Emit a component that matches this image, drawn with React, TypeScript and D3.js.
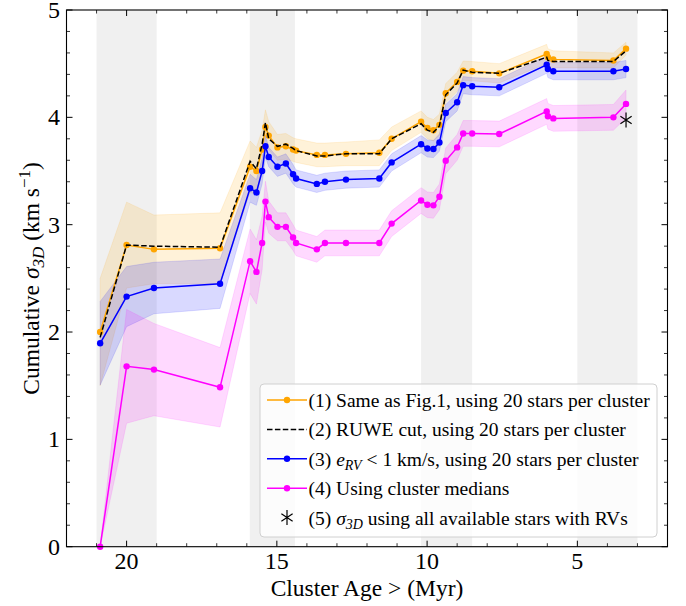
import React from 'react';
import * as d3 from 'd3';

// cluster ages (Myr) shared by every curve
const ages = [20.88, 20.0, 19.09, 16.89, 15.89, 15.68, 15.49, 15.38, 15.27, 14.98, 14.7, 14.46, 14.36, 13.67, 13.4, 12.7,
  11.59, 11.18, 10.2, 9.99, 9.79, 9.59, 9.38, 9.0, 8.8, 8.5, 7.6, 6.02, 5.98, 5.8, 3.8, 3.38];

// (1) same as Fig.1
const sameAsFig1 = [2.0, 2.81, 2.77, 2.78, 3.54, 3.5, 3.7, 3.91, 3.83, 3.72, 3.73, 3.7, 3.69, 3.65, 3.65, 3.66,
  3.67, 3.8, 3.96, 3.9, 3.88, 3.93, 4.225, 4.33, 4.435, 4.43, 4.41, 4.59, 4.56, 4.54, 4.53, 4.64];
const errFig1 = [0.5, 0.4, 0.32, 0.33, 0.24, 0.22, 0.18, 0.16, 0.13, 0.12, 0.12, 0.11, 0.11, 0.11, 0.11, 0.11,
  0.12, 0.11, 0.1, 0.1, 0.1, 0.1, 0.09, 0.09, 0.09, 0.09, 0.09, 0.09, 0.08, 0.08, 0.07, 0.06];

// (2) RUWE cut
const ruweCut = [1.95, 2.81, 2.8, 2.79, 3.59, 3.52, 3.75, 3.95, 3.8, 3.73, 3.75, 3.71, 3.69, 3.64, 3.64, 3.66,
  3.66, 3.8, 3.94, 3.88, 3.86, 3.92, 4.21, 4.32, 4.44, 4.42, 4.41, 4.56, 4.53, 4.52, 4.52, 4.62];

// (3) e_RV < 1 km/s
const eRvCut = [1.895, 2.33, 2.41, 2.45, 3.34, 3.3, 3.5, 3.73, 3.63, 3.54, 3.57, 3.47, 3.43, 3.38, 3.4, 3.42,
  3.43, 3.58, 3.75, 3.71, 3.705, 3.765, 4.04, 4.14, 4.3, 4.29, 4.28, 4.49, 4.45, 4.43, 4.43, 4.45];
const errErv = [0.39, 0.28, 0.24, 0.23, 0.13, 0.12, 0.12, 0.1, 0.09, 0.09, 0.09, 0.09, 0.08, 0.08, 0.08, 0.08,
  0.08, 0.08, 0.08, 0.08, 0.08, 0.08, 0.08, 0.08, 0.08, 0.08, 0.08, 0.08, 0.08, 0.08, 0.08, 0.08];

// (4) cluster medians
const medians = [0, 1.68, 1.65, 1.485, 2.66, 2.56, 2.83, 3.215, 3.07, 2.98, 2.98, 2.88, 2.83, 2.77, 2.83, 2.83,
  2.83, 3.01, 3.225, 3.185, 3.18, 3.26, 3.595, 3.72, 3.85, 3.85, 3.845, 4.055, 4.01, 3.99, 4.0, 4.125];
const errMed = [0, 0.53, 0.43, 0.37, 0.3, 0.3, 0.25, 0.19, 0.15, 0.13, 0.13, 0.12, 0.12, 0.12, 0.12, 0.12,
  0.12, 0.12, 0.12, 0.12, 0.12, 0.12, 0.12, 0.12, 0.12, 0.12, 0.12, 0.12, 0.12, 0.12, 0.12, 0.13];

// (5) all stars with RVs
const allStarsAge = [3.38];
const allStarsSigma = [3.975];

// shaded age groups
const groupBands = [[21, 19], [15.9, 14.4], [10.2, 8.5], [5, 3]];

const xTicks = [20, 15, 10, 5];
const yTicks = [0, 1, 2, 3, 4, 5];

const W = 686, H = 606;
const L = 66.5, R = 667.5, T = 10, B = 546.7;
const FONT = '"Liberation Serif", "Times New Roman", serif';

const x = d3.scaleLinear().domain([22, 2]).range([L, R]);
const y = d3.scaleLinear().domain([0, 5]).range([B, T]);

const ORANGE = '#FFA500', BLUE = '#0000FF', MAGENTA = '#FF00FF';

function Star({ cx, cy, s = 7.5 }: { cx: number; cy: number; s?: number }) {
  const dx = s * 0.75, dy = s * 0.5;
  return (
    <path d={`M${cx},${cy - s}L${cx},${cy + s}M${cx - dx},${cy - dy}L${cx + dx},${cy + dy}M${cx - dx},${cy + dy}L${cx + dx},${cy - dy}`}
      stroke="#000" strokeWidth={1.2} fill="none" />
  );
}

export default function App() {
  const line = (vals: number[]) => d3.line<number>().x((_, i) => x(ages[i])).y((v) => y(v))(vals) || '';
  const area = (vals: number[], err: number[]) =>
    d3.area<number>().x((_, i) => x(ages[i])).y0((v, i) => y(v - err[i])).y1((v, i) => y(v + err[i]))(vals) || '';

  const minorX = d3.range(3, 22, 1).filter((v) => !xTicks.includes(v));
  const minorY = d3.range(0, 5.01, 0.2).map((v) => +v.toFixed(1)).filter((v) => !yTicks.includes(v));

  const series = [
    { vals: sameAsFig1, err: errFig1, color: ORANGE },
    { vals: eRvCut, err: errErv, color: BLUE },
    { vals: medians, err: errMed, color: MAGENTA },
  ];

  const legX = 260, legY = 384, rowH = 29.4;
  const handleX0 = legX + 7, handleX1 = legX + 47, textX = legX + 48.5;
  const rowY = (i: number) => legY + 16 + i * rowH;

  return (
    <svg width={W} height={H} style={{ position: 'absolute', left: 0, top: 0, background: '#fff' }} fontFamily={FONT}>
      {groupBands.map(([a, b], i) => (
        <rect key={i} x={x(a)} y={T} width={x(b) - x(a)} height={B - T} fill="#f0f0f0" />
      ))}
      {series.map((s, i) => (
        <path key={'a' + i} d={area(s.vals, s.err)} fill={s.color} fillOpacity={0.15} stroke={s.color} strokeOpacity={0.15} strokeWidth={0.8} />
      ))}
      {series.map((s, i) => (
        <g key={'l' + i}>
          <path d={line(s.vals)} fill="none" stroke={s.color} strokeWidth={1.5} />
          {s.vals.map((v, j) => (
            <circle key={j} cx={x(ages[j])} cy={y(v)} r={3.2} fill={s.color} />
          ))}
        </g>
      ))}
      <path d={line(ruweCut)} fill="none" stroke="#000" strokeWidth={1.5} strokeDasharray="5.5,2.4" />
      {allStarsAge.map((a, i) => (
        <Star key={i} cx={x(a)} cy={y(allStarsSigma[i])} />
      ))}

      {/* axes frame and ticks */}
      <rect x={L} y={T} width={R - L} height={B - T} fill="none" stroke="#000" strokeWidth={1.1} />
      {xTicks.map((t) => (
        <g key={'xt' + t}>
          <line x1={x(t)} x2={x(t)} y1={B} y2={B - 6} stroke="#000" />
          <line x1={x(t)} x2={x(t)} y1={T} y2={T + 6} stroke="#000" />
          <text x={x(t)} y={569} textAnchor="middle" fontSize={24}>{t}</text>
        </g>
      ))}
      {minorX.map((t) => (
        <g key={'xm' + t}>
          <line x1={x(t)} x2={x(t)} y1={B} y2={B - 3.5} stroke="#000" strokeWidth={0.8} />
          <line x1={x(t)} x2={x(t)} y1={T} y2={T + 3.5} stroke="#000" strokeWidth={0.8} />
        </g>
      ))}
      {yTicks.map((t) => (
        <g key={'yt' + t}>
          <line x1={L} x2={L + 6} y1={y(t)} y2={y(t)} stroke="#000" />
          <line x1={R} x2={R - 6} y1={y(t)} y2={y(t)} stroke="#000" />
          <text x={60} y={y(t) + 8} textAnchor="end" fontSize={24}>{t}</text>
        </g>
      ))}
      {minorY.map((t) => (
        <g key={'ym' + t}>
          <line x1={L} x2={L + 3.5} y1={y(t)} y2={y(t)} stroke="#000" strokeWidth={0.8} />
          <line x1={R} x2={R - 3.5} y1={y(t)} y2={y(t)} stroke="#000" strokeWidth={0.8} />
        </g>
      ))}

      <text x={(L + R) / 2} y={596} textAnchor="middle" fontSize={23.5}>Cluster Age &gt; (Myr)</text>
      <text transform={`translate(39,${(T + B) / 2}) rotate(-90)`} textAnchor="middle" fontSize={23.5}>
        Cumulative <tspan fontStyle="italic">σ</tspan>
        <tspan fontStyle="italic" fontSize={17} dy={5}>3D</tspan>
        <tspan dy={-5}> (km s</tspan>
        <tspan fontSize={17} dy={-9}>−1</tspan>
        <tspan dy={9}>)</tspan>
      </text>

      {/* legend */}
      <rect x={legX} y={legY} width={397} height={153} rx={4} fill="#fff" fillOpacity={0.8} stroke="#d0d0d0" strokeWidth={1} />
      {[ORANGE, null, BLUE, MAGENTA].map((c, i) => (
        <g key={'lh' + i}>
          {c ? (
            <>
              <line x1={handleX0} x2={handleX1} y1={rowY(i)} y2={rowY(i)} stroke={c} strokeWidth={1.5} />
              <circle cx={(handleX0 + handleX1) / 2} cy={rowY(i)} r={3.2} fill={c} />
            </>
          ) : (
            <line x1={handleX0} x2={handleX1} y1={rowY(i)} y2={rowY(i)} stroke="#000" strokeWidth={1.5} strokeDasharray="5.5,2.4" />
          )}
        </g>
      ))}
      <Star cx={(handleX0 + handleX1) / 2} cy={rowY(4)} />
      <g fontSize={19.5}>
        <text x={textX} y={rowY(0) + 7}>(1) Same as Fig.1, using 20 stars per cluster</text>
        <text x={textX} y={rowY(1) + 7}>(2) RUWE cut, using 20 stars per cluster</text>
        <text x={textX} y={rowY(2) + 7}>
          (3) <tspan fontStyle="italic">e</tspan>
          <tspan fontStyle="italic" fontSize={14} dy={4}>RV</tspan>
          <tspan dy={-4}> &lt; 1 km/s, using 20 stars per cluster</tspan>
        </text>
        <text x={textX} y={rowY(3) + 7}>(4) Using cluster medians</text>
        <text x={textX} y={rowY(4) + 7}>
          (5) <tspan fontStyle="italic">σ</tspan>
          <tspan fontStyle="italic" fontSize={14} dy={4}>3D</tspan>
          <tspan dy={-4}> using all available stars with RVs</tspan>
        </text>
      </g>
    </svg>
  );
}
